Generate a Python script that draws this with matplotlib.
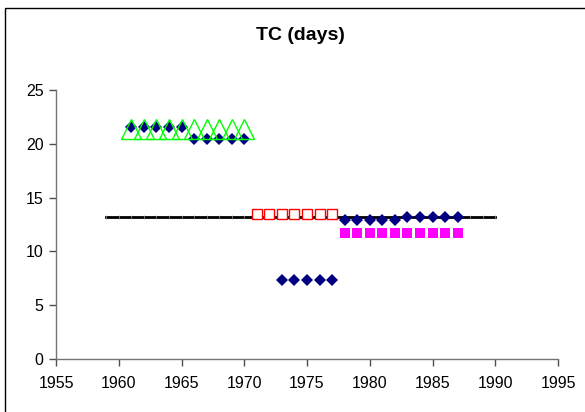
import matplotlib

matplotlib.use("Agg")
import matplotlib.pyplot as plt
from matplotlib.patches import Rectangle

plt.rcParams.update({
    "font.family": ["Liberation Sans", "DejaVu Sans"],
    "font.size": 11.5,
})

# yearly TC values (days)
diamond_years = [1961, 1962, 1963, 1964, 1965, 1966, 1967, 1968, 1969, 1970,
                 1973, 1974, 1975, 1976, 1977,
                 1978, 1979, 1980, 1981, 1982, 1983, 1984, 1985, 1986, 1987]
diamond_tc = [21.6, 21.6, 21.6, 21.6, 21.6, 20.4, 20.4, 20.4, 20.4, 20.4,
              7.3, 7.3, 7.3, 7.3, 7.3,
              12.9, 12.9, 12.9, 12.9, 12.9, 13.2, 13.2, 13.2, 13.2, 13.2]

triangle_years = [1961, 1962, 1963, 1964, 1965, 1966, 1967, 1968, 1969, 1970]
triangle_tc = [21.4] * 10

open_sq_years = [1971, 1972, 1973, 1974, 1975, 1976, 1977]
open_sq_tc = [13.45] * 7

filled_sq_years = [1978, 1979, 1980, 1981, 1982, 1983, 1984, 1985, 1986, 1987]
filled_sq_tc = [11.7] * 10

mean_years = list(range(1959, 1991))
mean_tc = [13.2] * len(mean_years)

fig = plt.figure(figsize=(5.85, 4.12), dpi=100)
ax = fig.add_axes([56 / 585, 53 / 412, 502 / 585, 269 / 412])

# outer chart frame
fig.patches.append(Rectangle((5 / 585, -0.1), 1.2, 1.1 - 8.5 / 412,
                             transform=fig.transFigure, fill=False,
                             edgecolor="black", linewidth=1.0))

ax.plot(mean_years, mean_tc, color="black", linewidth=2.0,
        marker="|", markersize=3.2, markeredgecolor="0.6",
        markeredgewidth=0.5, zorder=2)
ax.plot(open_sq_years, open_sq_tc, linestyle="none", marker="s",
        markersize=7.0, markerfacecolor="white", markeredgecolor="#ff0000",
        markeredgewidth=1.0, zorder=3)
ax.plot(filled_sq_years, filled_sq_tc, linestyle="none", marker="s",
        markersize=7.6, color="#ff00ff", markeredgewidth=0, zorder=3)
ax.plot(diamond_years, diamond_tc, linestyle="none", marker="D",
        markersize=6.6, color="#000080", markeredgewidth=0, zorder=4)
ax.plot(triangle_years, triangle_tc, linestyle="none", marker="^",
        markersize=15, markerfacecolor="none", markeredgecolor="#00ff00",
        markeredgewidth=1.0, zorder=5)

ax.set_xlim(1955, 1995)
ax.set_ylim(0, 25)
ax.set_xticks(range(1955, 1996, 5))
ax.set_yticks(range(0, 26, 5))
for s in ("top", "right"):
    ax.spines[s].set_visible(False)
for s in ("left", "bottom"):
    ax.spines[s].set_color("0.45")
    ax.spines[s].set_linewidth(1.0)
ax.tick_params(direction="out", length=5, width=1.0, color="0.3", pad=4)
ax.tick_params(axis="x", pad=7)

fig.text(300 / 585, 1 - 36 / 412, "TC (days)", ha="center", va="center",
         fontsize=14, fontweight="bold")

fig.savefig("out.png", dpi=100)
